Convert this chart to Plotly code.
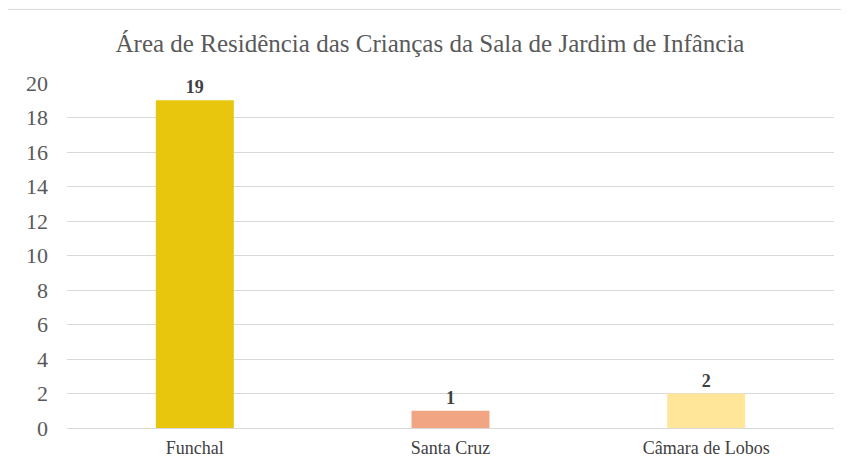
import plotly.graph_objects as go

categories = ["Funchal", "Santa Cruz", "Câmara de Lobos"]
values = [19, 1, 2]
colors = ["#E8C60E", "#F2A582", "#FFE699"]
y_ticks = [0, 2, 4, 6, 8, 10, 12, 14, 16, 18, 20]

OFF = 8  # default page body margin
W, H = 849 - OFF, 470 - OFF
L, R, T, B = 67 - OFF, 15, 83 - OFF, 40
SERIF = "Liberation Serif, Times New Roman, serif"

fig = go.Figure(go.Bar(
    x=categories, y=values, marker=dict(color=colors, line=dict(width=0)),
    text=[str(v) for v in values], textposition="outside", cliponaxis=False,
    textfont=dict(family=SERIF, size=18, color="#404040"),
    texttemplate="<b>%{text}</b>",
))

pw = W - L - R
ph = H - T - B
fig.update_layout(
    width=W, height=H,
    margin=dict(l=L, r=R, t=T, b=B),
    paper_bgcolor="white", plot_bgcolor="white",
    bargap=0.695,
    showlegend=False,
    title=dict(text="Área de Residência das Crianças da Sala de Jardim de Infância",
               x=(430 - OFF) / W, xanchor="center", y=1 - (43 - OFF) / H, yanchor="middle",
               font=dict(family=SERIF, size=25, color="#595959")),
    font=dict(family=SERIF, color="#595959"),
    xaxis=dict(showgrid=False, showline=False, ticks="",
               tickfont=dict(family=SERIF, size=18, color="#404040"),
               ticklabelstandoff=7),
    yaxis=dict(range=[0, 20], tickvals=y_ticks, showgrid=True, gridcolor="#D9D9D9",
               gridwidth=1, zeroline=True, zerolinecolor="#D9D9D9", zerolinewidth=1,
               tickfont=dict(family=SERIF, size=22, color="#595959"), ticks="",
               ticklabelstandoff=18),
    shapes=[dict(type="rect", xref="paper", yref="paper",
                 x0=(7 - 67) / pw, x1=(847 - 67) / pw,
                 y0=-0.3, y1=(430 - 9) / ph,
                 line=dict(color="#D9D9D9", width=1), fillcolor="rgba(0,0,0,0)", layer="below")],
)
fig.write_html("out.html")
